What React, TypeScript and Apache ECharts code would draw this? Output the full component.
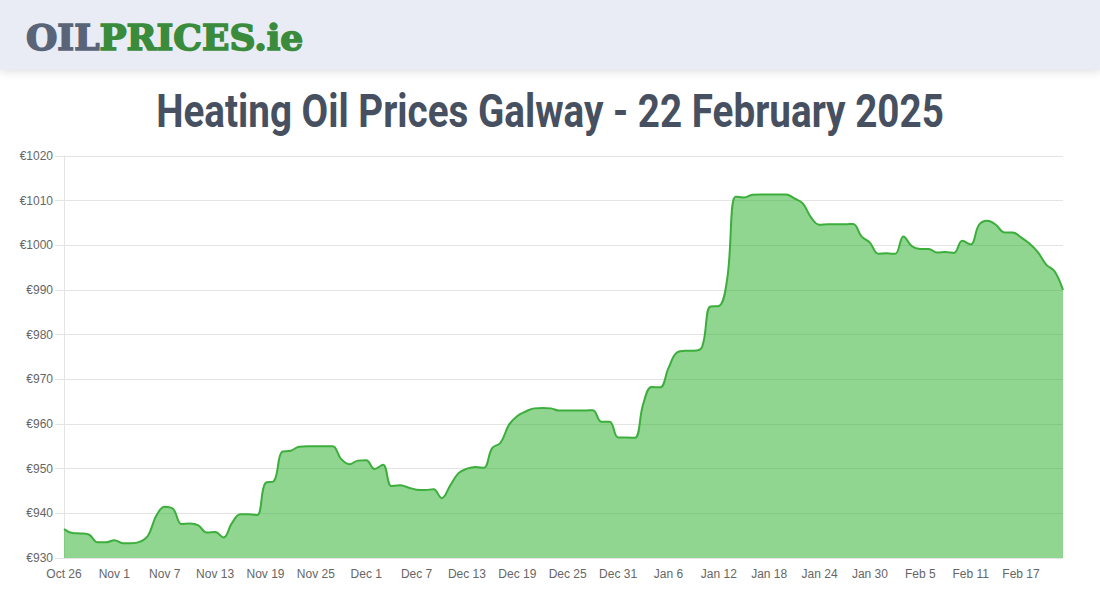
import React, { useEffect, useRef } from "react";
import * as echarts from "echarts";

const oct = ["Oct 26", "Oct 27", "Oct 28", "Oct 29", "Oct 30", "Oct 31"];
const nov = ["Nov 1","Nov 2","Nov 3","Nov 4","Nov 5","Nov 6","Nov 7","Nov 8","Nov 9","Nov 10","Nov 11","Nov 12","Nov 13","Nov 14","Nov 15","Nov 16","Nov 17","Nov 18","Nov 19","Nov 20","Nov 21","Nov 22","Nov 23","Nov 24","Nov 25","Nov 26","Nov 27","Nov 28","Nov 29","Nov 30"];
const dec = ["Dec 1","Dec 2","Dec 3","Dec 4","Dec 5","Dec 6","Dec 7","Dec 8","Dec 9","Dec 10","Dec 11","Dec 12","Dec 13","Dec 14","Dec 15","Dec 16","Dec 17","Dec 18","Dec 19","Dec 20","Dec 21","Dec 22","Dec 23","Dec 24","Dec 25","Dec 26","Dec 27","Dec 28","Dec 29","Dec 30","Dec 31"];
const jan = ["Jan 1","Jan 2","Jan 3","Jan 4","Jan 5","Jan 6","Jan 7","Jan 8","Jan 9","Jan 10","Jan 11","Jan 12","Jan 13","Jan 14","Jan 15","Jan 16","Jan 17","Jan 18","Jan 19","Jan 20","Jan 21","Jan 22","Jan 23","Jan 24","Jan 25","Jan 26","Jan 27","Jan 28","Jan 29","Jan 30","Jan 31"];
const feb = ["Feb 1","Feb 2","Feb 3","Feb 4","Feb 5","Feb 6","Feb 7","Feb 8","Feb 9","Feb 10","Feb 11","Feb 12","Feb 13","Feb 14","Feb 15","Feb 16","Feb 17","Feb 18","Feb 19","Feb 20","Feb 21","Feb 22"];
const categories = [...oct, ...nov, ...dec, ...jan, ...feb];

const prices = [
  936.5, 935.6, 935.5, 935.2, 933.5, 933.5, 934.0, 933.3, 933.3, 933.6,
  935.0, 939.5, 941.5, 941.0, 937.6, 937.7, 937.3, 935.7, 935.8, 934.6,
  937.8, 939.8, 939.8, 939.6, 946.8, 947.2, 953.8, 954.0, 954.9, 955.0,
  955.0, 955.0, 955.0, 952.2, 951.0, 951.8, 951.9, 949.9, 950.9, 946.1,
  946.3, 945.8, 945.3, 945.2, 945.4, 943.4, 946.2, 949.0, 950.0, 950.4,
  950.2, 954.6, 955.8, 959.8, 961.8, 962.8, 963.5, 963.6, 963.5, 963.0,
  963.0, 963.0, 963.0, 963.1, 960.5, 960.5, 957.0, 957.0, 956.9, 964.5,
  968.3, 968.2, 972.5, 976.0, 976.4, 976.4, 977.2, 986.3, 986.4, 992.5,
  1010.9, 1010.7, 1011.3, 1011.4, 1011.4, 1011.4, 1011.4, 1010.5, 1009.4, 1006.2,
  1004.6, 1004.7, 1004.7, 1004.7, 1004.8, 1002.0, 1000.6, 998.1, 998.2, 998.1,
  1002.0, 999.8, 999.2, 999.2, 998.4, 998.5, 998.3, 1001.0, 1000.2, 1004.6,
  1005.5, 1004.6, 1002.9, 1002.9, 1001.8, 1000.4, 998.5, 995.7, 994.2, 990.0,
];

const titleText = "Heating Oil Prices Galway - 22 February 2025";
const logoLeft = "OIL";
const logoRight = "PRICES.ie";

export default function App() {
  const ref = useRef<HTMLDivElement>(null);
  useEffect(() => {
    document.body.style.margin = "0";
    const chart = echarts.init(ref.current!, undefined, { renderer: "svg" });
    chart.setOption({
      animation: false,
      backgroundColor: "#ffffff",
      graphic: [
        {
          type: "rect",
          shape: { x: 0, y: 0, width: 1100, height: 70 },
          style: {
            fill: "#e9ecf5",
            shadowBlur: 8,
            shadowOffsetY: 2,
            shadowColor: "rgba(0,0,0,0.12)",
          },
          z: 10,
        },
        {
          type: "text",
          x: 26,
          y: 37,
          z: 11,
          style: {
            text: `{a|${logoLeft}}{b|${logoRight}}`,
            verticalAlign: "middle",
            rich: {
              a: { fontFamily: "DejaVu Serif", fontWeight: "bold", fontSize: 36, fill: "#5a6478", stroke: "#5a6478", lineWidth: 1.6 },
              b: { fontFamily: "DejaVu Serif", fontWeight: "bold", fontSize: 36, fill: "#3a8c3c", stroke: "#3a8c3c", lineWidth: 1.6 },
            },
          },
        },
        {
          type: "text",
          x: 550,
          y: 111,
          scaleX: 0.84,
          z: 11,
          style: {
            text: titleText,
            fontFamily: "Roboto",
            fontWeight: "bold",
            fontSize: 46,
            fill: "#465060",
            align: "center",
            verticalAlign: "middle",
          },
        },
      ],
      grid: { left: 64, right: 37, top: 156, bottom: 42, containLabel: false },
      xAxis: {
        type: "category",
        data: categories,
        boundaryGap: false,
        axisLine: { show: false },
        axisTick: { show: false },
        axisLabel: {
          interval: 5,
          color: "#666666",
          fontSize: 12,
          fontFamily: "Liberation Sans",
          margin: 10,
        },
        splitLine: { show: false },
      },
      yAxis: {
        type: "value",
        min: 930,
        max: 1020,
        interval: 10,
        axisLine: { show: true, lineStyle: { color: "#e4e4e4", width: 1 } },
        axisTick: { show: true, length: 9, lineStyle: { color: "#e4e4e4" } },
        axisLabel: {
          formatter: (v: number) => "€" + v,
          color: "#666666",
          fontSize: 12,
          fontFamily: "Liberation Sans",
          margin: 11,
        },
        splitLine: { show: true, lineStyle: { color: "#e4e4e4", width: 1 } },
      },
      series: [
        {
          type: "line",
          data: prices,
          smooth: 0.4,
          showSymbol: false,
          symbol: "none",
          lineStyle: { color: "#3cae3c", width: 2 },
          areaStyle: { color: "rgb(45,178,45)", opacity: 0.53 },
        },
      ],
    });
    return () => chart.dispose();
  }, []);
  return (
    <div
      ref={ref}
      style={{ position: "fixed", left: 0, top: 0, width: 1100, height: 600 }}
    />
  );
}
